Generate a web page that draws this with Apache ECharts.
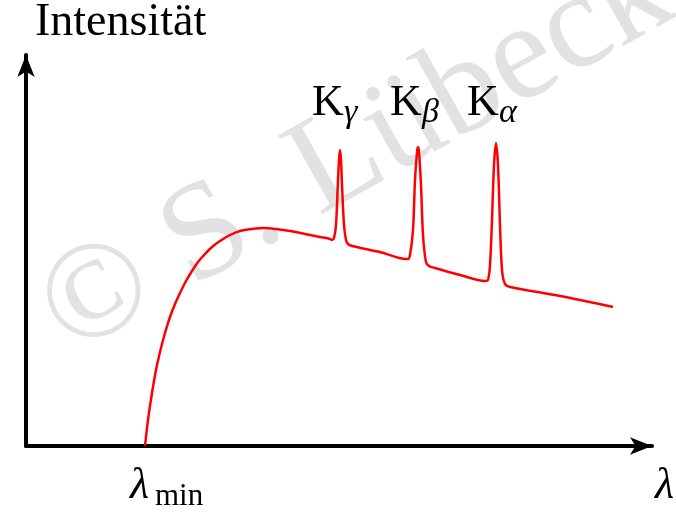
<!DOCTYPE html>
<html>
<head>
<meta charset="utf-8">
<script src="https://cdn.jsdelivr.net/npm/echarts@6/dist/echarts.min.js"></script>
<style>html,body{margin:0;padding:0;background:#fff}#c{width:676px;height:516px}</style>
</head>
<body>
<div id="c"></div>
<script>
// wavelength (arbitrary units) and intensity (arbitrary units)
const lambda = [119,122,126,130,134,139,144,149,154,160,166,172,179,186,194,204,214,226,238,250,264,279,294,304,
  306,308,310,312,313,314,315,316,318,320,322,326,354,380,
  382,384,387,389,391,392,393,395,397,400,403,409,434,459,
  462,464,466,468,470,472,474,476,479,484,534,587];
const intensity = [0,26,53,76,94,113,129,142,153,165,175,184,192,199,205,211,215,217,218,217,215,212,209,207,
  206,208,221,266,286,296,286,261,221,206,202,200,194,187,
  187,191,216,266,294,299,294,261,211,184,180,178,171,165,
  166,181,226,281,303,281,221,176,162,159,150,139];
const axisMaxX = 626, axisMaxY = 391;
const yTitle = 'Intensität';
const lines = [{k:'K', s:'γ'}, {k:'K', s:'β'}, {k:'K', s:'α'}];
const xLabelMain = 'λ', xLabelSub = 'min', xTitle = 'λ';
const watermark = '© S. Lübeck';

const serif = '"Liberation Serif", "DejaVu Serif", serif';
const chart = echarts.init(document.getElementById('c'));
const data = lambda.map((x, i) => [x, intensity[i]]);

function txt(text, x, y, size, italic, extra) {
  return Object.assign({
    type: 'text', x: x, y: y, z: 10,
    style: { text: text, font: (italic ? 'italic ' : '') + size + 'px ' + serif, fill: '#000', textVerticalAlign: 'middle' }
  }, extra || {});
}
const g = [];
// watermark
g.push({ type: 'text', x: 86, y: 384, rotation: 0.51, z: -5, silent: true,
  style: { text: watermark, font: '138px ' + serif, fill: '#e2e2e2', textVerticalAlign: 'bottom' } });
g.push(txt(yTitle, 35, 39 - 16, 46, false));
const kx = [312, 390, 467];
lines.forEach((l, i) => {
  g.push(txt(l.k, kx[i], 119 - 15.4, 44, false));
  g.push(txt(l.s, kx[i] + 32, 125 - 11.5, 34, true));
});
g.push(txt(xLabelMain, 130, 502 - 15.4, 44, true));
g.push(txt(xLabelSub, 155, 508 - 10.9, 31, false));
g.push(txt(xTitle, 655, 502 - 15.4, 44, true));

chart.setOption({
  animation: false,
  grid: { left: 26, right: 24, top: 55, bottom: 70 },
  xAxis: { type: 'value', min: 0, max: axisMaxX,
    axisLine: { show: true, onZero: false, symbol: ['none', 'arrow'], symbolSize: [13, 22], lineStyle: { color: '#000', width: 4 } },
    axisTick: { show: false }, axisLabel: { show: false }, splitLine: { show: false } },
  yAxis: { type: 'value', min: 0, max: axisMaxY,
    axisLine: { show: true, onZero: false, symbol: ['none', 'arrow'], symbolSize: [13, 22], lineStyle: { color: '#000', width: 4 } },
    axisTick: { show: false }, axisLabel: { show: false }, splitLine: { show: false } },
  series: [{ type: 'line', data: data, showSymbol: false, smooth: 0.3,
    lineStyle: { color: '#ff0000', width: 2.5 }, z: 5 }],
  graphic: g
});
</script>
</body>
</html>
